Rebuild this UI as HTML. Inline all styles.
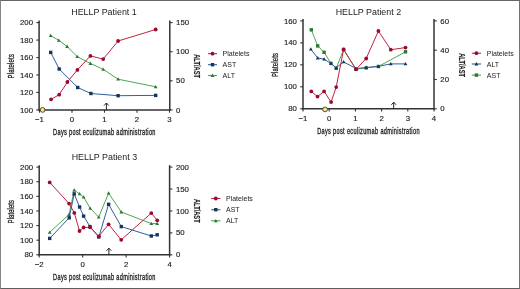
<!DOCTYPE html>
<html><head><meta charset="utf-8"><style>
html,body{margin:0;padding:0;background:#fff;}
body{width:520px;height:289px;overflow:hidden;}
.frame{position:absolute;left:0;top:0;width:518px;height:287px;border:1px solid #666;border-left-color:#868686;border-right-color:#727272;border-bottom-color:#5e5e5e;}
svg{position:absolute;left:0;top:0;will-change:transform;filter:blur(0.3px);font-family:"Liberation Sans", sans-serif;}
</style></head><body>
<div class="frame"></div>
<svg width="520" height="289" viewBox="0 0 520 289">
<text x="104.00" y="14.90" font-size="8.9" text-anchor="middle" fill="#222" font-weight="normal" >HELLP Patient 1</text>
<line x1="39.10" y1="20.60" x2="39.10" y2="110.60" stroke="#333" stroke-width="1.5"/>
<line x1="169.80" y1="20.60" x2="169.80" y2="110.60" stroke="#333" stroke-width="1.5"/>
<line x1="38.40" y1="109.90" x2="170.50" y2="109.90" stroke="#333" stroke-width="1.5"/>
<line x1="36.30" y1="109.90" x2="39.10" y2="109.90" stroke="#333" stroke-width="1.1"/>
<text x="33.00" y="112.50" font-size="7.8" text-anchor="end" fill="#222" font-weight="normal" stroke="#222" stroke-width="0.15">100</text>
<line x1="36.30" y1="92.44" x2="39.10" y2="92.44" stroke="#333" stroke-width="1.1"/>
<text x="33.00" y="95.04" font-size="7.8" text-anchor="end" fill="#222" font-weight="normal" stroke="#222" stroke-width="0.15">120</text>
<line x1="36.30" y1="74.98" x2="39.10" y2="74.98" stroke="#333" stroke-width="1.1"/>
<text x="33.00" y="77.58" font-size="7.8" text-anchor="end" fill="#222" font-weight="normal" stroke="#222" stroke-width="0.15">140</text>
<line x1="36.30" y1="57.52" x2="39.10" y2="57.52" stroke="#333" stroke-width="1.1"/>
<text x="33.00" y="60.12" font-size="7.8" text-anchor="end" fill="#222" font-weight="normal" stroke="#222" stroke-width="0.15">160</text>
<line x1="36.30" y1="40.06" x2="39.10" y2="40.06" stroke="#333" stroke-width="1.1"/>
<text x="33.00" y="42.66" font-size="7.8" text-anchor="end" fill="#222" font-weight="normal" stroke="#222" stroke-width="0.15">180</text>
<line x1="36.30" y1="22.60" x2="39.10" y2="22.60" stroke="#333" stroke-width="1.1"/>
<text x="33.00" y="25.20" font-size="7.8" text-anchor="end" fill="#222" font-weight="normal" stroke="#222" stroke-width="0.15">200</text>
<line x1="169.80" y1="109.90" x2="172.60" y2="109.90" stroke="#333" stroke-width="1.1"/>
<text x="176.10" y="112.50" font-size="7.8" text-anchor="start" fill="#222" font-weight="normal" stroke="#222" stroke-width="0.15">0</text>
<line x1="169.80" y1="80.80" x2="172.60" y2="80.80" stroke="#333" stroke-width="1.1"/>
<text x="176.10" y="83.40" font-size="7.8" text-anchor="start" fill="#222" font-weight="normal" stroke="#222" stroke-width="0.15">50</text>
<line x1="169.80" y1="51.70" x2="172.60" y2="51.70" stroke="#333" stroke-width="1.1"/>
<text x="176.10" y="54.30" font-size="7.8" text-anchor="start" fill="#222" font-weight="normal" stroke="#222" stroke-width="0.15">100</text>
<line x1="169.80" y1="22.60" x2="172.60" y2="22.60" stroke="#333" stroke-width="1.1"/>
<text x="176.10" y="25.20" font-size="7.8" text-anchor="start" fill="#222" font-weight="normal" stroke="#222" stroke-width="0.15">150</text>
<line x1="39.50" y1="109.90" x2="39.50" y2="112.70" stroke="#333" stroke-width="1.1"/>
<text x="39.50" y="122.30" font-size="7.8" text-anchor="middle" fill="#222" font-weight="normal" stroke="#222" stroke-width="0.15">−1</text>
<line x1="72.00" y1="109.90" x2="72.00" y2="112.70" stroke="#333" stroke-width="1.1"/>
<text x="72.00" y="122.30" font-size="7.8" text-anchor="middle" fill="#222" font-weight="normal" stroke="#222" stroke-width="0.15">0</text>
<line x1="104.50" y1="109.90" x2="104.50" y2="112.70" stroke="#333" stroke-width="1.1"/>
<text x="104.50" y="122.30" font-size="7.8" text-anchor="middle" fill="#222" font-weight="normal" stroke="#222" stroke-width="0.15">1</text>
<line x1="137.00" y1="109.90" x2="137.00" y2="112.70" stroke="#333" stroke-width="1.1"/>
<text x="137.00" y="122.30" font-size="7.8" text-anchor="middle" fill="#222" font-weight="normal" stroke="#222" stroke-width="0.15">2</text>
<line x1="169.50" y1="109.90" x2="169.50" y2="112.70" stroke="#333" stroke-width="1.1"/>
<text x="169.50" y="122.30" font-size="7.8" text-anchor="middle" fill="#222" font-weight="normal" stroke="#222" stroke-width="0.15">3</text>
<text transform="translate(104.45,134.80) rotate(0) scale(0.6736,1)" font-size="8.3" font-weight="normal" text-anchor="middle" fill="#222" letter-spacing="0.5" stroke="#222" stroke-width="0.32">Days post eculizumab administration</text>
<text transform="translate(14.40,66.20) rotate(-90) scale(0.6663,1)" font-size="9.0" font-weight="normal" text-anchor="middle" fill="#222" letter-spacing="0.3" stroke="#222" stroke-width="0.3">Platelets</text>
<text transform="translate(194.30,66.10) rotate(90) scale(0.6831,1)" font-size="8.4" font-weight="bold" text-anchor="middle" fill="#222" stroke="#222" stroke-width="0.15">ALT/AST</text>
<line x1="208.00" y1="53.70" x2="217.00" y2="53.70" stroke="#c2223f" stroke-width="1.1"/>
<circle cx="212.50" cy="53.70" r="1.9" fill="#980a2e"/>
<text x="222.60" y="56.20" font-size="7.0" text-anchor="start" fill="#222" font-weight="normal" >Platelets</text>
<line x1="208.00" y1="64.70" x2="217.00" y2="64.70" stroke="#30609a" stroke-width="1.1"/>
<rect x="210.80" y="63.00" width="3.4" height="3.4" fill="#15355c"/>
<text x="222.60" y="67.20" font-size="7.0" text-anchor="start" fill="#222" font-weight="normal" >AST</text>
<line x1="208.00" y1="75.50" x2="217.00" y2="75.50" stroke="#4ea654" stroke-width="1.1"/>
<path d="M212.50,73.60 L214.40,76.90 L210.60,76.90Z" fill="#2a7834"/>
<text x="222.60" y="78.00" font-size="7.0" text-anchor="start" fill="#222" font-weight="normal" >ALT</text>
<text x="368.40" y="14.90" font-size="8.9" text-anchor="middle" fill="#222" font-weight="normal" >HELLP Patient 2</text>
<line x1="303.00" y1="18.90" x2="303.00" y2="109.50" stroke="#333" stroke-width="1.5"/>
<line x1="434.00" y1="18.90" x2="434.00" y2="109.50" stroke="#333" stroke-width="1.5"/>
<line x1="302.30" y1="108.80" x2="434.70" y2="108.80" stroke="#333" stroke-width="1.5"/>
<line x1="300.20" y1="108.80" x2="303.00" y2="108.80" stroke="#333" stroke-width="1.1"/>
<text x="296.90" y="111.40" font-size="7.8" text-anchor="end" fill="#222" font-weight="normal" stroke="#222" stroke-width="0.15">80</text>
<line x1="300.20" y1="86.82" x2="303.00" y2="86.82" stroke="#333" stroke-width="1.1"/>
<text x="296.90" y="89.42" font-size="7.8" text-anchor="end" fill="#222" font-weight="normal" stroke="#222" stroke-width="0.15">100</text>
<line x1="300.20" y1="64.85" x2="303.00" y2="64.85" stroke="#333" stroke-width="1.1"/>
<text x="296.90" y="67.45" font-size="7.8" text-anchor="end" fill="#222" font-weight="normal" stroke="#222" stroke-width="0.15">120</text>
<line x1="300.20" y1="42.87" x2="303.00" y2="42.87" stroke="#333" stroke-width="1.1"/>
<text x="296.90" y="45.47" font-size="7.8" text-anchor="end" fill="#222" font-weight="normal" stroke="#222" stroke-width="0.15">140</text>
<line x1="300.20" y1="20.90" x2="303.00" y2="20.90" stroke="#333" stroke-width="1.1"/>
<text x="296.90" y="23.50" font-size="7.8" text-anchor="end" fill="#222" font-weight="normal" stroke="#222" stroke-width="0.15">160</text>
<line x1="434.00" y1="108.80" x2="436.80" y2="108.80" stroke="#333" stroke-width="1.1"/>
<text x="440.30" y="111.40" font-size="7.8" text-anchor="start" fill="#222" font-weight="normal" stroke="#222" stroke-width="0.15">0</text>
<line x1="434.00" y1="79.50" x2="436.80" y2="79.50" stroke="#333" stroke-width="1.1"/>
<text x="440.30" y="82.10" font-size="7.8" text-anchor="start" fill="#222" font-weight="normal" stroke="#222" stroke-width="0.15">20</text>
<line x1="434.00" y1="50.20" x2="436.80" y2="50.20" stroke="#333" stroke-width="1.1"/>
<text x="440.30" y="52.80" font-size="7.8" text-anchor="start" fill="#222" font-weight="normal" stroke="#222" stroke-width="0.15">40</text>
<line x1="434.00" y1="20.90" x2="436.80" y2="20.90" stroke="#333" stroke-width="1.1"/>
<text x="440.30" y="23.50" font-size="7.8" text-anchor="start" fill="#222" font-weight="normal" stroke="#222" stroke-width="0.15">60</text>
<line x1="303.00" y1="108.80" x2="303.00" y2="111.60" stroke="#333" stroke-width="1.1"/>
<text x="303.00" y="121.20" font-size="7.8" text-anchor="middle" fill="#222" font-weight="normal" stroke="#222" stroke-width="0.15">−1</text>
<line x1="329.20" y1="108.80" x2="329.20" y2="111.60" stroke="#333" stroke-width="1.1"/>
<text x="329.20" y="121.20" font-size="7.8" text-anchor="middle" fill="#222" font-weight="normal" stroke="#222" stroke-width="0.15">0</text>
<line x1="355.40" y1="108.80" x2="355.40" y2="111.60" stroke="#333" stroke-width="1.1"/>
<text x="355.40" y="121.20" font-size="7.8" text-anchor="middle" fill="#222" font-weight="normal" stroke="#222" stroke-width="0.15">1</text>
<line x1="381.60" y1="108.80" x2="381.60" y2="111.60" stroke="#333" stroke-width="1.1"/>
<text x="381.60" y="121.20" font-size="7.8" text-anchor="middle" fill="#222" font-weight="normal" stroke="#222" stroke-width="0.15">2</text>
<line x1="407.80" y1="108.80" x2="407.80" y2="111.60" stroke="#333" stroke-width="1.1"/>
<text x="407.80" y="121.20" font-size="7.8" text-anchor="middle" fill="#222" font-weight="normal" stroke="#222" stroke-width="0.15">3</text>
<line x1="434.00" y1="108.80" x2="434.00" y2="111.60" stroke="#333" stroke-width="1.1"/>
<text x="434.00" y="121.20" font-size="7.8" text-anchor="middle" fill="#222" font-weight="normal" stroke="#222" stroke-width="0.15">4</text>
<text transform="translate(368.50,133.70) rotate(0) scale(0.6736,1)" font-size="8.3" font-weight="normal" text-anchor="middle" fill="#222" letter-spacing="0.5" stroke="#222" stroke-width="0.32">Days post eculizumab administration</text>
<text transform="translate(278.20,64.95) rotate(-90) scale(0.6528,1)" font-size="9.0" font-weight="normal" text-anchor="middle" fill="#222" letter-spacing="0.3" stroke="#222" stroke-width="0.3">Platelets</text>
<text transform="translate(458.50,65.10) rotate(90) scale(0.6831,1)" font-size="8.4" font-weight="bold" text-anchor="middle" fill="#222" stroke="#222" stroke-width="0.15">ALT/AST</text>
<line x1="471.80" y1="53.20" x2="481.00" y2="53.20" stroke="#c2223f" stroke-width="1.1"/>
<circle cx="476.40" cy="53.20" r="1.9" fill="#980a2e"/>
<text x="486.80" y="55.70" font-size="7.0" text-anchor="start" fill="#222" font-weight="normal" >Platelets</text>
<line x1="471.80" y1="64.00" x2="481.00" y2="64.00" stroke="#30609a" stroke-width="1.1"/>
<path d="M476.40,62.10 L478.30,65.40 L474.50,65.40Z" fill="#15355c"/>
<text x="486.80" y="66.50" font-size="7.0" text-anchor="start" fill="#222" font-weight="normal" >ALT</text>
<line x1="471.80" y1="75.10" x2="481.00" y2="75.10" stroke="#4ea654" stroke-width="1.1"/>
<rect x="474.70" y="73.40" width="3.4" height="3.4" fill="#2a7834"/>
<text x="486.80" y="77.60" font-size="7.0" text-anchor="start" fill="#222" font-weight="normal" >AST</text>
<text x="104.40" y="160.40" font-size="8.9" text-anchor="middle" fill="#222" font-weight="normal" >HELLP Patient 3</text>
<line x1="39.20" y1="165.20" x2="39.20" y2="255.50" stroke="#333" stroke-width="1.5"/>
<line x1="169.60" y1="165.20" x2="169.60" y2="255.50" stroke="#333" stroke-width="1.5"/>
<line x1="38.50" y1="254.80" x2="170.30" y2="254.80" stroke="#333" stroke-width="1.5"/>
<line x1="36.40" y1="254.80" x2="39.20" y2="254.80" stroke="#333" stroke-width="1.1"/>
<text x="33.10" y="257.40" font-size="7.8" text-anchor="end" fill="#222" font-weight="normal" stroke="#222" stroke-width="0.15">80</text>
<line x1="36.40" y1="240.19" x2="39.20" y2="240.19" stroke="#333" stroke-width="1.1"/>
<text x="33.10" y="242.79" font-size="7.8" text-anchor="end" fill="#222" font-weight="normal" stroke="#222" stroke-width="0.15">100</text>
<line x1="36.40" y1="225.57" x2="39.20" y2="225.57" stroke="#333" stroke-width="1.1"/>
<text x="33.10" y="228.17" font-size="7.8" text-anchor="end" fill="#222" font-weight="normal" stroke="#222" stroke-width="0.15">120</text>
<line x1="36.40" y1="210.96" x2="39.20" y2="210.96" stroke="#333" stroke-width="1.1"/>
<text x="33.10" y="213.56" font-size="7.8" text-anchor="end" fill="#222" font-weight="normal" stroke="#222" stroke-width="0.15">140</text>
<line x1="36.40" y1="196.34" x2="39.20" y2="196.34" stroke="#333" stroke-width="1.1"/>
<text x="33.10" y="198.94" font-size="7.8" text-anchor="end" fill="#222" font-weight="normal" stroke="#222" stroke-width="0.15">160</text>
<line x1="36.40" y1="181.73" x2="39.20" y2="181.73" stroke="#333" stroke-width="1.1"/>
<text x="33.10" y="184.33" font-size="7.8" text-anchor="end" fill="#222" font-weight="normal" stroke="#222" stroke-width="0.15">180</text>
<line x1="36.40" y1="167.12" x2="39.20" y2="167.12" stroke="#333" stroke-width="1.1"/>
<text x="33.10" y="169.72" font-size="7.8" text-anchor="end" fill="#222" font-weight="normal" stroke="#222" stroke-width="0.15">200</text>
<line x1="169.60" y1="254.80" x2="172.40" y2="254.80" stroke="#333" stroke-width="1.1"/>
<text x="175.90" y="257.40" font-size="7.8" text-anchor="start" fill="#222" font-weight="normal" stroke="#222" stroke-width="0.15">0</text>
<line x1="169.60" y1="232.88" x2="172.40" y2="232.88" stroke="#333" stroke-width="1.1"/>
<text x="175.90" y="235.48" font-size="7.8" text-anchor="start" fill="#222" font-weight="normal" stroke="#222" stroke-width="0.15">50</text>
<line x1="169.60" y1="210.96" x2="172.40" y2="210.96" stroke="#333" stroke-width="1.1"/>
<text x="175.90" y="213.56" font-size="7.8" text-anchor="start" fill="#222" font-weight="normal" stroke="#222" stroke-width="0.15">100</text>
<line x1="169.60" y1="189.04" x2="172.40" y2="189.04" stroke="#333" stroke-width="1.1"/>
<text x="175.90" y="191.64" font-size="7.8" text-anchor="start" fill="#222" font-weight="normal" stroke="#222" stroke-width="0.15">150</text>
<line x1="169.60" y1="167.12" x2="172.40" y2="167.12" stroke="#333" stroke-width="1.1"/>
<text x="175.90" y="169.72" font-size="7.8" text-anchor="start" fill="#222" font-weight="normal" stroke="#222" stroke-width="0.15">200</text>
<line x1="39.20" y1="254.80" x2="39.20" y2="257.60" stroke="#333" stroke-width="1.1"/>
<text x="39.20" y="267.20" font-size="7.8" text-anchor="middle" fill="#222" font-weight="normal" stroke="#222" stroke-width="0.15">−2</text>
<line x1="82.66" y1="254.80" x2="82.66" y2="257.60" stroke="#333" stroke-width="1.1"/>
<text x="82.66" y="267.20" font-size="7.8" text-anchor="middle" fill="#222" font-weight="normal" stroke="#222" stroke-width="0.15">0</text>
<line x1="126.12" y1="254.80" x2="126.12" y2="257.60" stroke="#333" stroke-width="1.1"/>
<text x="126.12" y="267.20" font-size="7.8" text-anchor="middle" fill="#222" font-weight="normal" stroke="#222" stroke-width="0.15">2</text>
<line x1="169.58" y1="254.80" x2="169.58" y2="257.60" stroke="#333" stroke-width="1.1"/>
<text x="169.58" y="267.20" font-size="7.8" text-anchor="middle" fill="#222" font-weight="normal" stroke="#222" stroke-width="0.15">4</text>
<text transform="translate(104.40,279.70) rotate(0) scale(0.6736,1)" font-size="8.3" font-weight="normal" text-anchor="middle" fill="#222" letter-spacing="0.5" stroke="#222" stroke-width="0.32">Days post eculizumab administration</text>
<text transform="translate(14.10,211.60) rotate(-90) scale(0.6311,1)" font-size="9.0" font-weight="normal" text-anchor="middle" fill="#222" letter-spacing="0.3" stroke="#222" stroke-width="0.3">Platelets</text>
<text transform="translate(194.10,210.80) rotate(90) scale(0.6831,1)" font-size="8.4" font-weight="bold" text-anchor="middle" fill="#222" stroke="#222" stroke-width="0.15">ALT/AST</text>
<line x1="211.20" y1="198.50" x2="220.40" y2="198.50" stroke="#c2223f" stroke-width="1.1"/>
<circle cx="215.80" cy="198.50" r="1.9" fill="#980a2e"/>
<text x="226.00" y="201.00" font-size="7.0" text-anchor="start" fill="#222" font-weight="normal" >Platelets</text>
<line x1="211.20" y1="209.70" x2="220.40" y2="209.70" stroke="#30609a" stroke-width="1.1"/>
<rect x="214.10" y="208.00" width="3.4" height="3.4" fill="#15355c"/>
<text x="226.00" y="212.20" font-size="7.0" text-anchor="start" fill="#222" font-weight="normal" >AST</text>
<line x1="211.20" y1="220.80" x2="220.40" y2="220.80" stroke="#4ea654" stroke-width="1.1"/>
<path d="M215.80,218.90 L217.70,222.20 L213.90,222.20Z" fill="#2a7834"/>
<text x="226.00" y="223.30" font-size="7.0" text-anchor="start" fill="#222" font-weight="normal" >ALT</text>
<polyline points="50.70,35.60 58.80,40.30 67.10,46.50 77.20,56.60 90.40,63.50 103.20,69.30 118.10,79.20 155.70,86.80" fill="none" stroke="#4ea654" stroke-width="1.0"/>
<path d="M50.70,33.70 L52.60,37.00 L48.80,37.00Z" fill="#2a7834"/>
<path d="M58.80,38.40 L60.70,41.70 L56.90,41.70Z" fill="#2a7834"/>
<path d="M67.10,44.60 L69.00,47.90 L65.20,47.90Z" fill="#2a7834"/>
<path d="M77.20,54.70 L79.10,58.00 L75.30,58.00Z" fill="#2a7834"/>
<path d="M90.40,61.60 L92.30,64.90 L88.50,64.90Z" fill="#2a7834"/>
<path d="M103.20,67.40 L105.10,70.70 L101.30,70.70Z" fill="#2a7834"/>
<path d="M118.10,77.30 L120.00,80.60 L116.20,80.60Z" fill="#2a7834"/>
<path d="M155.70,84.90 L157.60,88.20 L153.80,88.20Z" fill="#2a7834"/>
<polyline points="50.70,52.40 59.20,69.00 77.70,87.50 90.90,93.50 118.10,95.70 155.70,95.40" fill="none" stroke="#30609a" stroke-width="1.0"/>
<rect x="49.00" y="50.70" width="3.4" height="3.4" fill="#15355c"/>
<rect x="57.50" y="67.30" width="3.4" height="3.4" fill="#15355c"/>
<rect x="76.00" y="85.80" width="3.4" height="3.4" fill="#15355c"/>
<rect x="89.20" y="91.80" width="3.4" height="3.4" fill="#15355c"/>
<rect x="116.40" y="94.00" width="3.4" height="3.4" fill="#15355c"/>
<rect x="154.00" y="93.70" width="3.4" height="3.4" fill="#15355c"/>
<polyline points="51.10,99.30 59.20,94.70 67.40,82.00 77.40,69.90 90.40,55.90 103.20,59.10 118.10,41.00 155.70,29.50" fill="none" stroke="#c2223f" stroke-width="1.0"/>
<circle cx="51.10" cy="99.30" r="1.9" fill="#980a2e"/>
<circle cx="59.20" cy="94.70" r="1.9" fill="#980a2e"/>
<circle cx="67.40" cy="82.00" r="1.9" fill="#980a2e"/>
<circle cx="77.40" cy="69.90" r="1.9" fill="#980a2e"/>
<circle cx="90.40" cy="55.90" r="1.9" fill="#980a2e"/>
<circle cx="103.20" cy="59.10" r="1.9" fill="#980a2e"/>
<circle cx="118.10" cy="41.00" r="1.9" fill="#980a2e"/>
<circle cx="155.70" cy="29.50" r="1.9" fill="#980a2e"/>
<polyline points="311.30,29.80 317.70,45.90 324.10,52.30 331.00,63.40 336.20,68.30 343.60,49.50 356.00,69.30 366.20,67.90 378.40,66.50 405.50,51.80" fill="none" stroke="#4ea654" stroke-width="1.0"/>
<rect x="309.60" y="28.10" width="3.4" height="3.4" fill="#2a7834"/>
<rect x="316.00" y="44.20" width="3.4" height="3.4" fill="#2a7834"/>
<rect x="322.40" y="50.60" width="3.4" height="3.4" fill="#2a7834"/>
<rect x="329.30" y="61.70" width="3.4" height="3.4" fill="#2a7834"/>
<rect x="334.50" y="66.60" width="3.4" height="3.4" fill="#2a7834"/>
<rect x="341.90" y="47.80" width="3.4" height="3.4" fill="#2a7834"/>
<rect x="354.30" y="67.60" width="3.4" height="3.4" fill="#2a7834"/>
<rect x="364.50" y="66.20" width="3.4" height="3.4" fill="#2a7834"/>
<rect x="376.70" y="64.80" width="3.4" height="3.4" fill="#2a7834"/>
<rect x="403.80" y="50.10" width="3.4" height="3.4" fill="#2a7834"/>
<polyline points="310.80,49.20 317.70,58.00 324.10,59.20 331.00,63.40 336.20,67.80 343.60,61.90 356.00,68.50 366.20,67.50 378.40,66.30 390.80,63.90 405.50,63.90" fill="none" stroke="#30609a" stroke-width="1.0"/>
<path d="M310.80,47.30 L312.70,50.60 L308.90,50.60Z" fill="#15355c"/>
<path d="M317.70,56.10 L319.60,59.40 L315.80,59.40Z" fill="#15355c"/>
<path d="M324.10,57.30 L326.00,60.60 L322.20,60.60Z" fill="#15355c"/>
<path d="M331.00,61.50 L332.90,64.80 L329.10,64.80Z" fill="#15355c"/>
<path d="M336.20,65.90 L338.10,69.20 L334.30,69.20Z" fill="#15355c"/>
<path d="M343.60,60.00 L345.50,63.30 L341.70,63.30Z" fill="#15355c"/>
<path d="M356.00,66.60 L357.90,69.90 L354.10,69.90Z" fill="#15355c"/>
<path d="M366.20,65.60 L368.10,68.90 L364.30,68.90Z" fill="#15355c"/>
<path d="M378.40,64.40 L380.30,67.70 L376.50,67.70Z" fill="#15355c"/>
<path d="M390.80,62.00 L392.70,65.30 L388.90,65.30Z" fill="#15355c"/>
<path d="M405.50,62.00 L407.40,65.30 L403.60,65.30Z" fill="#15355c"/>
<polyline points="311.30,91.40 317.50,96.60 324.10,91.40 331.10,102.10 336.20,87.10 343.60,49.50 356.00,69.30 366.20,58.50 378.40,31.00 390.80,49.70 405.50,47.60" fill="none" stroke="#c2223f" stroke-width="1.0"/>
<circle cx="311.30" cy="91.40" r="1.9" fill="#980a2e"/>
<circle cx="317.50" cy="96.60" r="1.9" fill="#980a2e"/>
<circle cx="324.10" cy="91.40" r="1.9" fill="#980a2e"/>
<circle cx="331.10" cy="102.10" r="1.9" fill="#980a2e"/>
<circle cx="336.20" cy="87.10" r="1.9" fill="#980a2e"/>
<circle cx="343.60" cy="49.50" r="1.9" fill="#980a2e"/>
<circle cx="356.00" cy="69.30" r="1.9" fill="#980a2e"/>
<circle cx="366.20" cy="58.50" r="1.9" fill="#980a2e"/>
<circle cx="378.40" cy="31.00" r="1.9" fill="#980a2e"/>
<circle cx="390.80" cy="49.70" r="1.9" fill="#980a2e"/>
<circle cx="405.50" cy="47.60" r="1.9" fill="#980a2e"/>
<polyline points="49.70,232.30 69.10,214.50 74.20,190.10 79.60,193.90 83.60,197.10 90.20,208.30 98.70,217.10 108.60,193.20 121.30,212.00 151.30,223.60 157.20,223.60" fill="none" stroke="#4ea654" stroke-width="1.0"/>
<path d="M49.70,230.40 L51.60,233.70 L47.80,233.70Z" fill="#2a7834"/>
<path d="M69.10,212.60 L71.00,215.90 L67.20,215.90Z" fill="#2a7834"/>
<path d="M74.20,188.20 L76.10,191.50 L72.30,191.50Z" fill="#2a7834"/>
<path d="M79.60,192.00 L81.50,195.30 L77.70,195.30Z" fill="#2a7834"/>
<path d="M83.60,195.20 L85.50,198.50 L81.70,198.50Z" fill="#2a7834"/>
<path d="M90.20,206.40 L92.10,209.70 L88.30,209.70Z" fill="#2a7834"/>
<path d="M98.70,215.20 L100.60,218.50 L96.80,218.50Z" fill="#2a7834"/>
<path d="M108.60,191.30 L110.50,194.60 L106.70,194.60Z" fill="#2a7834"/>
<path d="M121.30,210.10 L123.20,213.40 L119.40,213.40Z" fill="#2a7834"/>
<path d="M151.30,221.70 L153.20,225.00 L149.40,225.00Z" fill="#2a7834"/>
<path d="M157.20,221.70 L159.10,225.00 L155.30,225.00Z" fill="#2a7834"/>
<polyline points="49.70,238.40 69.20,217.80 74.20,193.90 79.60,207.00 83.60,216.10 90.00,226.60 98.80,237.00 108.60,204.30 121.30,226.60 151.30,236.00 157.20,234.80" fill="none" stroke="#30609a" stroke-width="1.0"/>
<rect x="48.00" y="236.70" width="3.4" height="3.4" fill="#15355c"/>
<rect x="67.50" y="216.10" width="3.4" height="3.4" fill="#15355c"/>
<rect x="72.50" y="192.20" width="3.4" height="3.4" fill="#15355c"/>
<rect x="77.90" y="205.30" width="3.4" height="3.4" fill="#15355c"/>
<rect x="81.90" y="214.40" width="3.4" height="3.4" fill="#15355c"/>
<rect x="88.30" y="224.90" width="3.4" height="3.4" fill="#15355c"/>
<rect x="97.10" y="235.30" width="3.4" height="3.4" fill="#15355c"/>
<rect x="106.90" y="202.60" width="3.4" height="3.4" fill="#15355c"/>
<rect x="119.60" y="224.90" width="3.4" height="3.4" fill="#15355c"/>
<rect x="149.60" y="234.30" width="3.4" height="3.4" fill="#15355c"/>
<rect x="155.50" y="233.10" width="3.4" height="3.4" fill="#15355c"/>
<polyline points="49.70,182.40 69.10,203.60 74.30,212.90 79.50,231.00 83.60,227.50 90.00,227.30 98.80,236.30 108.60,224.30 121.20,239.80 151.30,213.10 157.20,220.30" fill="none" stroke="#c2223f" stroke-width="1.0"/>
<circle cx="49.70" cy="182.40" r="1.9" fill="#980a2e"/>
<circle cx="69.10" cy="203.60" r="1.9" fill="#980a2e"/>
<circle cx="74.30" cy="212.90" r="1.9" fill="#980a2e"/>
<circle cx="79.50" cy="231.00" r="1.9" fill="#980a2e"/>
<circle cx="83.60" cy="227.50" r="1.9" fill="#980a2e"/>
<circle cx="90.00" cy="227.30" r="1.9" fill="#980a2e"/>
<circle cx="98.80" cy="236.30" r="1.9" fill="#980a2e"/>
<circle cx="108.60" cy="224.30" r="1.9" fill="#980a2e"/>
<circle cx="121.20" cy="239.80" r="1.9" fill="#980a2e"/>
<circle cx="151.30" cy="213.10" r="1.9" fill="#980a2e"/>
<circle cx="157.20" cy="220.30" r="1.9" fill="#980a2e"/>
<path d="M106.40,109.90 L106.40,103.00 M104.00,105.60 L106.40,103.00 L108.80,105.60" fill="none" stroke="#111" stroke-width="0.9"/>
<path d="M393.70,108.80 L393.70,102.20 M391.30,104.80 L393.70,102.20 L396.10,104.80" fill="none" stroke="#111" stroke-width="0.9"/>
<path d="M108.90,254.80 L108.90,248.20 M106.50,250.80 L108.90,248.20 L111.30,250.80" fill="none" stroke="#111" stroke-width="0.9"/>
<circle cx="42.60" cy="109.90" r="2.4" fill="#f4e4a0" stroke="#4a3c10" stroke-width="0.9"/>
<circle cx="325.10" cy="109.40" r="2.4" fill="#f4e4a0" stroke="#4a3c10" stroke-width="0.9"/>
</svg>
</body></html>
